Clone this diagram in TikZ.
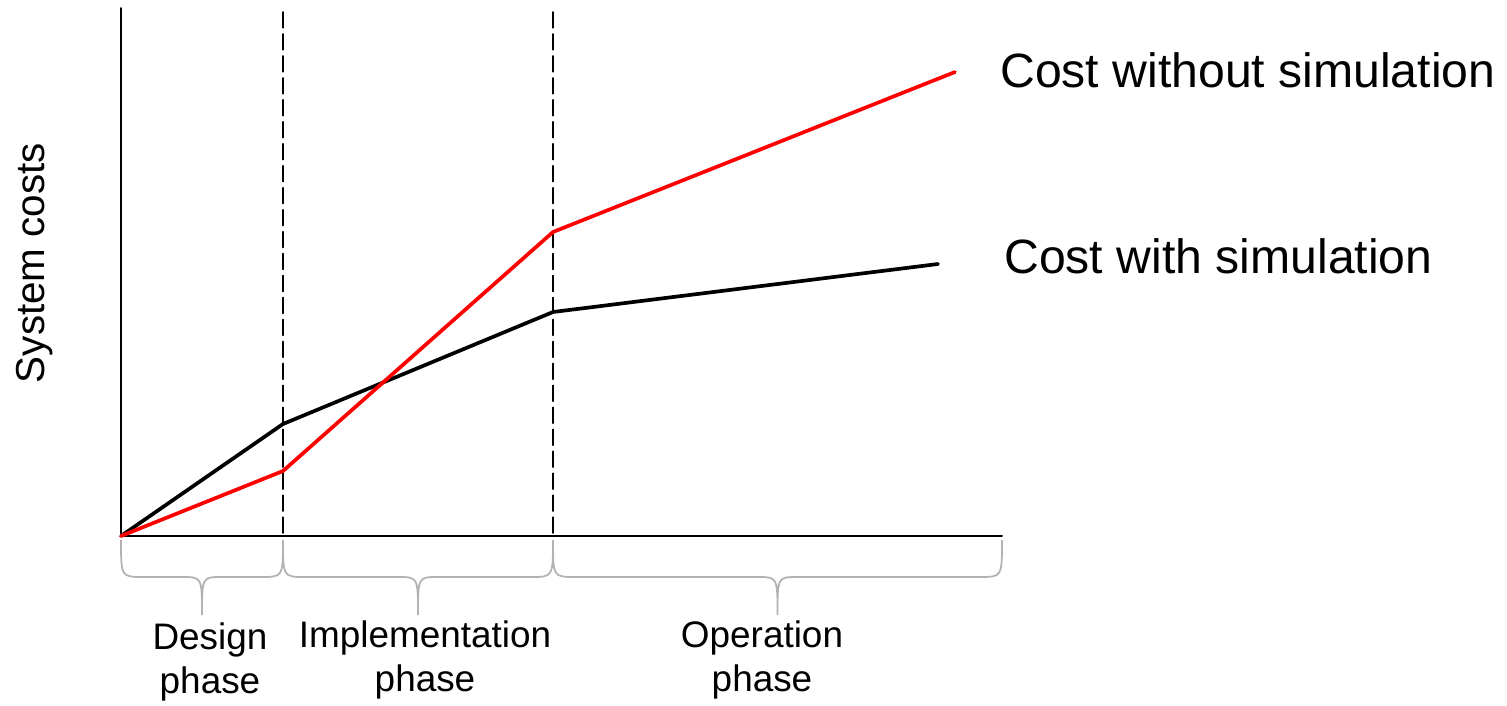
\documentclass[tikz,border=0pt]{standalone}
\usepackage{fontspec}
\setmainfont{Liberation Sans}
\usepackage{tkz-euclide}
\tikzset{
  axisline/.style={line width=1.1pt, black},
  phaseline/.style={line width=0.9pt, black, dash pattern=on 9pt off 3.5pt},
  withsim/.style={line width=2.1pt, black},
  withoutsim/.style={line width=2.1pt, red},
  phasebrace/.style={line width=1pt, black!30},
  curvelabel/.style={anchor=west, inner sep=0pt, font=\fontsize{27.4}{32}\selectfont},
  phaselabel/.style={align=center, inner sep=0pt, font=\fontsize{21}{25.5}\selectfont}
}

\begin{document}
\begin{tikzpicture}
    \useasboundingbox (0,0) rectangle (30.14,14.1);
    \tkzDefPoints{2.42/3.38/O, 2.42/13.94/Y, 20.04/3.38/X}
    \tkzDefPoints{5.66/13.86/D, 5.66/3.38/d, 11.06/13.86/I, 11.06/3.38/i}
    \tkzDefPoints{5.66/5.62/B1, 11.06/7.86/B2, 18.76/8.82/B3}
    \tkzDefPoints{5.66/4.68/R1, 11.06/9.46/R2, 19.10/12.66/R3}
    % axes and phase limits
    \tkzDrawSegments[axisline](O,Y O,X)
    \tkzDrawSegments[phaseline](D,d I,i)
    % cost curves
    \tkzDrawPolySeg[withsim](O,B1,B2,B3)
    \tkzDrawPolySeg[withoutsim](O,R1,R2,R3)
    \node[curvelabel] (nosim) at (20.0,12.70) {Cost without simulation};
    \node[curvelabel] (sim) at (20.08,8.98) {Cost with simulation};
    \node[rotate=90, inner sep=0pt, font=\fontsize{23}{28}\selectfont] (ylabel) at (0.70,8.84) {System costs};
    % phase braces
    \foreach \a/\m/\b in {2.42/4.04/5.66, 5.66/8.36/11.06, 11.06/15.55/20.04}
      \draw[phasebrace] (\a,3.30) .. controls (\a,2.56) .. (\a+0.45,2.56) -- (\m-0.4,2.56)
        .. controls (\m,2.56) .. (\m,1.80) .. controls (\m,2.56) .. (\m+0.4,2.56)
        -- (\b-0.45,2.56) .. controls (\b,2.56) .. (\b,3.30);
    \node[phaselabel] (design) at (4.2,0.86) {Design\\phase};
    \node[phaselabel] (impl) at (8.5,0.90) {Implementation\\phase};
    \node[phaselabel] (oper) at (15.24,0.90) {Operation\\phase};
\end{tikzpicture}
\end{document}
